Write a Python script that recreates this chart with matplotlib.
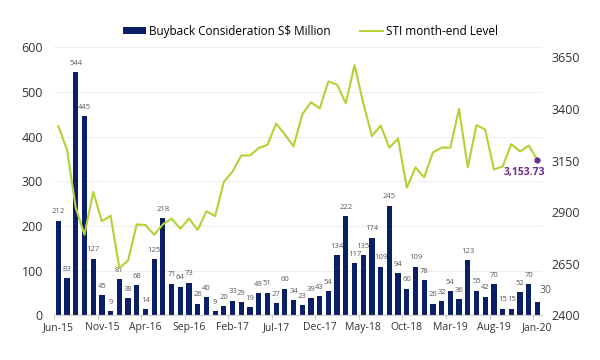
import matplotlib.pyplot as plt
import numpy as np

# month labels (every 5th shown on axis)
months = ['Jun-15', 'Jul-15', 'Aug-15', 'Sep-15', 'Oct-15', 'Nov-15', 'Dec-15',
          'Jan-16', 'Feb-16', 'Mar-16', 'Apr-16', 'May-16', 'Jun-16', 'Jul-16',
          'Aug-16', 'Sep-16', 'Oct-16', 'Nov-16', 'Dec-16', 'Jan-17', 'Feb-17',
          'Mar-17', 'Apr-17', 'May-17', 'Jun-17', 'Jul-17', 'Aug-17', 'Sep-17',
          'Oct-17', 'Nov-17', 'Dec-17', 'Jan-18', 'Feb-18', 'Mar-18', 'Apr-18',
          'May-18', 'Jun-18', 'Jul-18', 'Aug-18', 'Sep-18', 'Oct-18', 'Nov-18',
          'Dec-18', 'Jan-19', 'Feb-19', 'Mar-19', 'Apr-19', 'May-19', 'Jun-19',
          'Jul-19', 'Aug-19', 'Sep-19', 'Oct-19', 'Nov-19', 'Dec-19', 'Jan-20']

# buyback consideration, S$ million
buyback = [212, 83, 544, 445, 127, 45, 9, 81, 38, 68, 14, 125, 218, 71, 64, 73,
           26, 40, 9, 20, 33, 29, 19, 49, 51, 27, 60, 34, 23, 39, 43, 54, 134,
           222, 117, 135, 174, 109, 245, 94, 60, 109, 78, 26, 32, 54, 36, 123,
           55, 42, 70, 15, 15, 52, 70, 30]

# STI month-end level
sti = [3317, 3202, 2921, 2791, 2998, 2856, 2883, 2629, 2666, 2841, 2838, 2791,
       2841, 2869, 2820, 2869, 2814, 2905, 2881, 3047, 3097, 3175, 3175, 3211,
       3226, 3330, 3277, 3219, 3374, 3433, 3403, 3534, 3518, 3428, 3613, 3429,
       3269, 3320, 3213, 3257, 3019, 3117, 3069, 3190, 3213, 3213, 3401, 3117,
       3322, 3301, 3107, 3121, 3230, 3194, 3223, 3153.73]

navy = '#0b1f66'
green = '#b2d235'
purple = '#6b2c91'
grey = '#595959'

plt.rcParams['font.family'] = ['Open Sans', 'DejaVu Sans']

fig = plt.figure(figsize=(6, 3.6), dpi=100)
ax = fig.add_axes([0.09, 0.124, 0.813, 0.745])
ax2 = ax.twinx()

x = np.arange(len(months))
bars = ax.bar(x, buyback, width=0.6, color=navy, label='Buyback Consideration S$ Million', zorder=2)
for i, v in enumerate(buyback[:-1]):
    ax.text(x[i], v + 12, str(v), ha='center', va='bottom', fontsize=5.5, color=grey)
# last label sits to the right of its bar, a bit larger
ax.text(x[-1] + 0.9, buyback[-1] + 25, str(buyback[-1]), ha='center', va='center',
        fontsize=7.5, color=grey)

line, = ax2.plot(x, sti, color=green, lw=1.5, label='STI month-end Level', zorder=3)
ax2.plot(x[-1], sti[-1], 'o', color=purple, ms=3.5, zorder=4)
ax2.text(x[-1] + 0.9, sti[-1] - 60, '3,153.73', color=purple, fontsize=7.5,
         fontweight='bold', ha='right', va='center')

ax.set_ylim(0, 600)
ax.set_yticks(range(0, 601, 100))
ax2.set_ylim(2400, 3700)
ax2.set_yticks(range(2400, 3651, 250))
ax.set_xlim(-0.5, len(months) - 0.5)

ax.grid(axis='y', color='#eeeeee', lw=0.8, zorder=0)
ax.set_axisbelow(True)

ax.set_xticks(x[::5])
ax.set_xticklabels(months[::5], fontsize=7.5, color='#333333')
ax.tick_params(axis='x', length=0, pad=5)
ax.set_xticks(x[::5] - 0.5, minor=True)
ax.tick_params(axis='x', which='minor', length=3, color='#bfbfbf')
ax.tick_params(axis='y', length=0, labelsize=9, labelcolor='#333333', pad=8)
ax2.tick_params(axis='y', length=0, labelsize=9, labelcolor='#333333', pad=7)

for a in (ax, ax2):
    for s in ('top', 'left', 'right'):
        a.spines[s].set_visible(False)
    a.spines['bottom'].set_color('#d0d0d0')

fig.legend(handles=[bars, line], loc='upper center', bbox_to_anchor=(0.517, 0.96),
           ncol=2, frameon=False, fontsize=8.5, handlelength=2.0, columnspacing=2.5,
           handleheight=0.5, handletextpad=0.2)

fig.savefig('out.png', dpi=100)
